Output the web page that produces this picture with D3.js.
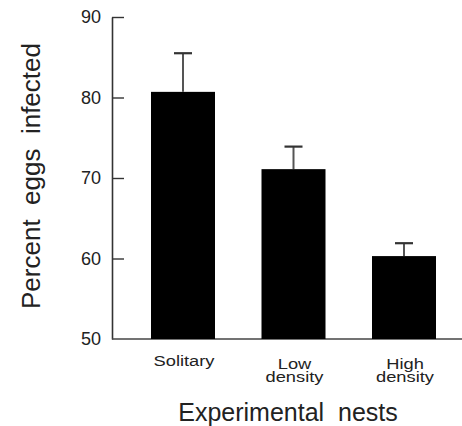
<!DOCTYPE html>
<html>
<head>
<meta charset="utf-8">
<script src="https://cdn.jsdelivr.net/npm/d3@7"></script>
<style>
  body { margin: 0; background: #fff; }
  svg { display: block; font-family: "Liberation Sans", Arial, sans-serif; }
</style>
</head>
<body>
<svg id="chart" width="462" height="426"></svg>
<script>
// data
const categories = ['Solitary', 'Low density', 'High density'];
const mean_values = [80.7, 71.1, 60.3];
const error_values = [4.8, 2.8, 1.6];
const y_ticks = [50, 60, 70, 80, 90];

let svg = d3.select('#chart');

let x = d3.scalePoint().domain(categories).range([183, 404]);
let y = d3.scaleLinear().domain([50, 90]).range([339, 17]);
let bar_width = 64;
let axis_x = 112;

// y axis, ticks pointing inward
let y_axis = d3.axisLeft(y)
    .tickValues(y_ticks)
    .tickSizeInner(-12)
    .tickSizeOuter(0)
    .tickPadding(11);

let g_axis = svg.append('g')
    .attr('transform', 'translate(' + axis_x + ',0)')
    .call(y_axis);

g_axis.select('.domain').attr('stroke', '#333').attr('stroke-width', 1.6);
g_axis.selectAll('.tick line')
    .attr('stroke', '#333')
    .attr('stroke-width', 1.4)
    .filter(d => d === 50).remove();
g_axis.selectAll('.tick text')
    .attr('fill', '#222')
    .style('font-size', '18px')
    .style('font-family', '"Liberation Sans", Arial, sans-serif');

// baseline
svg.append('line')
    .attr('x1', axis_x)
    .attr('x2', 462)
    .attr('y1', y(50))
    .attr('y2', y(50))
    .attr('stroke', '#444')
    .attr('stroke-width', 1.6);

// error bars (upper only)
let data = categories.map((c, i) => ({name: c, value: mean_values[i], err: error_values[i]}));

svg.selectAll('.err')
    .data(data)
    .enter().append('line')
    .attr('class', 'err')
    .attr('x1', d => x(d.name))
    .attr('x2', d => x(d.name))
    .attr('y1', d => y(d.value))
    .attr('y2', d => y(d.value + d.err))
    .attr('stroke', '#555')
    .attr('stroke-width', 2);

svg.selectAll('.cap')
    .data(data)
    .enter().append('line')
    .attr('class', 'cap')
    .attr('x1', d => x(d.name) - 9)
    .attr('x2', d => x(d.name) + 9)
    .attr('y1', d => y(d.value + d.err))
    .attr('y2', d => y(d.value + d.err))
    .attr('stroke', '#333')
    .attr('stroke-width', 2.2);

// bars
svg.selectAll('.bar')
    .data(data)
    .enter().append('rect')
    .attr('class', 'bar')
    .attr('x', d => x(d.name) - bar_width / 2)
    .attr('y', d => y(d.value))
    .attr('width', bar_width)
    .attr('height', d => y(50) - y(d.value))
    .attr('fill', '#000');

// category labels (the print face is a bit wide, so stretch it)
svg.selectAll('.cat')
    .data(data)
    .enter().append('g')
    .attr('class', 'cat')
    .attr('transform', d => 'translate(' + (x(d.name) + 1) + ',0) scale(1.22,1)')
    .append('text')
    .attr('text-anchor', 'middle')
    .attr('fill', '#222')
    .style('font-size', '15px')
    .each(function (d) {
        let words = d.name.split(' ');
        let t = d3.select(this);
        let y0 = words.length > 1 ? 369 : 366;
        words.forEach((w, i) => {
            t.append('tspan')
                .attr('x', 0)
                .attr('y', y0 + i * 13)
                .text(w);
        });
    });

// axis titles
svg.append('text')
    .attr('x', 288)
    .attr('y', 421)
    .attr('text-anchor', 'middle')
    .attr('fill', '#222')
    .style('font-size', '25px')
    .style('white-space', 'pre')
    .text('Experimental  nests');

svg.append('text')
    .attr('transform', 'translate(40,176) rotate(-90)')
    .attr('text-anchor', 'middle')
    .attr('fill', '#222')
    .style('font-size', '26px')
    .style('white-space', 'pre')
    .text('Percent  eggs  infected');
</script>
</body>
</html>
